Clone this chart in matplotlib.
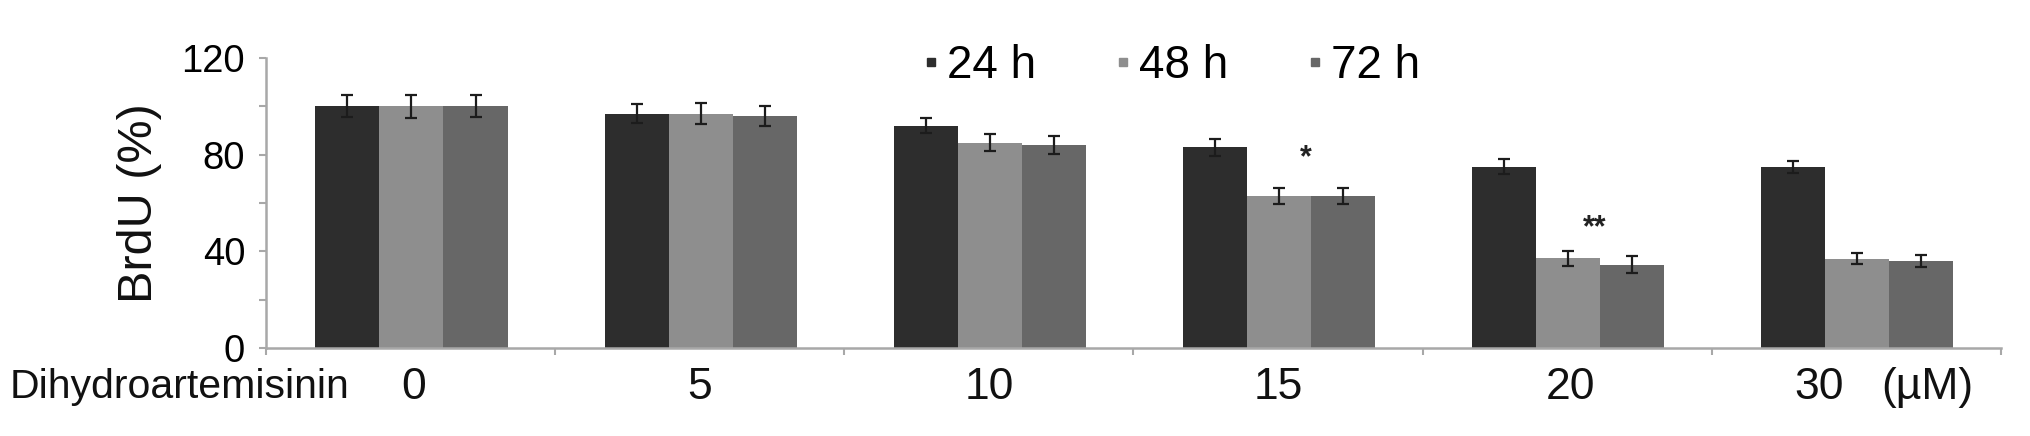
import matplotlib
matplotlib.use("Agg")
import matplotlib.pyplot as plt
from matplotlib.lines import Line2D
import numpy as np

# ---- data ----
doses = ["0", "5", "10", "15", "20", "30"]
series = ["24 h", "48 h", "72 h"]
vals_24h = [100, 97, 92, 83, 75, 75]
vals_48h = [100, 97, 85, 63, 37.2, 37]
vals_72h = [100, 96, 84, 63, 34.5, 36]
err_24h = [4.5, 4.0, 3.0, 3.4, 3.2, 2.5]
err_48h = [4.8, 4.2, 3.5, 3.4, 3.1, 2.4]
err_72h = [4.5, 4.2, 3.6, 3.4, 3.4, 2.5]
sig_labels = ["", "", "", "*", "**", ""]
sig_y = [0, 0, 0, 78.5, 49.5, 0]
y_ticks = [0, 40, 80, 120]

colors = ["#2d2d2d", "#8e8e8e", "#676767"]

plt.rcParams["font.family"] = ["Liberation Sans", "DejaVu Sans"]

fig = plt.figure(figsize=(20.31, 4.36), dpi=100)
ax = fig.add_axes([266 / 2031, 1 - 348 / 436, (2001 - 266) / 2031, (348 - 58) / 436])

x = np.arange(len(doses))
bw = 0.2215
all_vals = [vals_24h, vals_48h, vals_72h]
all_errs = [err_24h, err_48h, err_72h]
for i, (v, e, c) in enumerate(zip(all_vals, all_errs, colors)):
    ax.bar(x + (i - 1) * bw + 0.003, v, width=bw, color=c, edgecolor="none", zorder=2)
    ax.errorbar(x + (i - 1) * bw + 0.003, v, yerr=e, fmt="none", ecolor="#1c1c1c",
                elinewidth=1.6, capsize=4, capthick=1.6, zorder=3)

# significance marks
for xi, lab, yv in zip(x, sig_labels, sig_y):
    if lab:
        ax.text(xi + 0.095, yv, lab, ha="center", va="center", fontsize=22,
                color="#222222", fontweight="bold")

ax.set_xlim(-0.5, len(doses) - 0.5)
ax.set_ylim(0, 120)

for s in ["top", "right"]:
    ax.spines[s].set_visible(False)
for s in ["left", "bottom"]:
    ax.spines[s].set_color("#a8a8a8")
    ax.spines[s].set_linewidth(1.8)

ax.set_yticks(y_ticks)
ax.set_yticks([20, 60, 100], minor=True)
ax.tick_params(axis="y", which="both", direction="out", length=5, width=1.5,
               color="#a8a8a8", labelsize=27.5, pad=10)

ax.set_xticks([])
ax.set_xticks(np.arange(-0.5, len(doses)), minor=True)
ax.tick_params(axis="x", which="minor", direction="out", length=5, width=1.5,
               color="#a8a8a8", labelbottom=False)

# category labels
trans = matplotlib.transforms.blended_transform_factory(ax.transData, ax.transAxes)
label_dx = [0.01, 0, 0, 0, 0.01, -0.13]
for xi, lab, dx in zip(x, doses, label_dx):
    ax.text(xi + dx, -0.176, lab, transform=trans, ha="center", va="baseline",
            fontsize=32, color="#111111")
ax.text(x[-1] + 0.087, -0.176, "(\u00b5M)", transform=trans, ha="left",
        va="baseline", fontsize=32, color="#111111")
fig.text(10 / 2031, 1 - 398 / 436, "Dihydroartemisinin", ha="left", va="baseline",
         fontsize=29.5, color="#111111")

# y label
fig.text(140 / 2031, 1 - 203 / 436, "BrdU (%)", rotation=90, ha="center", va="center",
         fontsize=35, color="#111111")

# legend
handles = [Line2D([], [], linestyle="none", marker="s", markersize=5.5,
                  markerfacecolor=c, markeredgecolor=c) for c in colors]
fig.legend(handles, series, loc="center", bbox_to_anchor=(1172 / 2031, 1 - 66 / 436),
           ncol=3, frameon=False, fontsize=33, handlelength=0.3, handletextpad=0.2,
           columnspacing=1.75, borderpad=0, borderaxespad=0)

fig.savefig("out.png", dpi=100)
